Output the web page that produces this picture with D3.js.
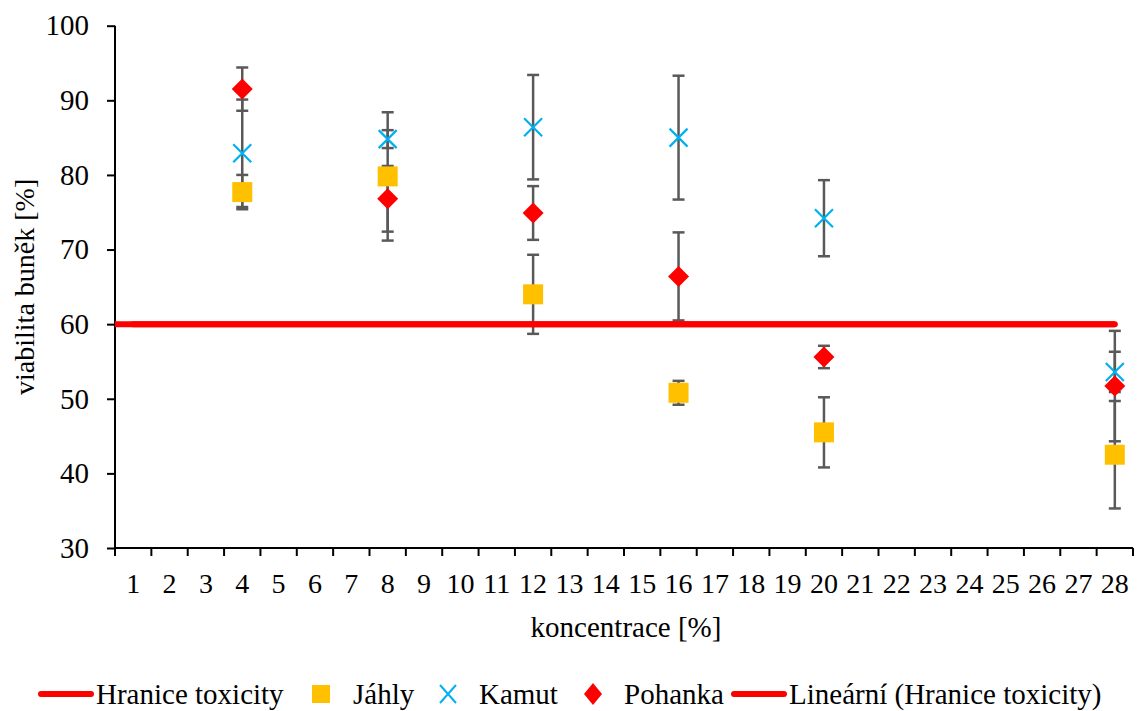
<!DOCTYPE html>
<html>
<head>
<meta charset="utf-8">
<script src="https://cdn.jsdelivr.net/npm/d3@7"></script>
<style>
  html, body { margin: 0; padding: 0; background: #fff; }
  svg { display: block; }
  text { font-family: "Liberation Serif", "Times New Roman", serif; fill: #000; }
</style>
</head>
<body>
<svg id="chart" width="1137" height="711"></svg>
<script>
const categories = d3.range(1, 29).map(String);
const pointCats = ["4", "8", "12", "16", "20", "28"];
const hranice = categories.map(() => 60);
const jahly = [77.7, 79.8, 64.0, 50.8, 45.5, 42.5];
const jahlyErr = [2.3, 8.6, 5.3, 1.6, 4.7, 7.2];
const kamut = [82.9, 84.8, 86.4, 85.0, 74.2, 53.6];
const kamutErr = [7.2, 1.2, 7.0, 8.3, 5.1, 2.7];
const pohanka = [91.5, 76.8, 74.9, 66.4, 55.6, 51.7];
const pohankaErr = [2.9, 4.4, 3.6, 5.9, 1.5, 7.4];
const yTicks = [30, 40, 50, 60, 70, 80, 90, 100];

const svg = d3.select("#chart");
const M = { left: 115, right: 1133, top: 25.7, bottom: 548 };

const x = d3.scaleBand().domain(categories).range([M.left, M.right]).paddingInner(0).paddingOuter(0);
const cx = c => x(c) + x.bandwidth() / 2;
const y = d3.scaleLinear().domain([30, 100]).range([M.bottom, M.top]);

// Y axis
const yAxis = svg.append("g").attr("transform", `translate(${M.left},0)`)
  .call(d3.axisLeft(y).tickValues(yTicks).tickSize(8).tickPadding(18));
yAxis.select(".domain").attr("stroke", "#000").attr("stroke-width", 2).attr("d", `M0,${M.top}V${M.bottom}`);
yAxis.selectAll(".tick line").attr("stroke", "#000").attr("stroke-width", 2);
yAxis.selectAll(".tick text").style("font-size", "29px").style("font-family", "Liberation Serif, Times New Roman, serif");

// X axis: boundary ticks + centered labels
const xAxis = svg.append("g").attr("transform", `translate(0,${M.bottom})`);
xAxis.append("line").attr("x1", M.left - 1).attr("x2", M.right).attr("y1", 0).attr("y2", 0)
  .attr("stroke", "#000").attr("stroke-width", 2);
const bounds = categories.map(c => x(c)).concat([M.right]);
xAxis.selectAll("line.tk").data(bounds).enter().append("line").attr("class", "tk")
  .attr("x1", d => d).attr("x2", d => d).attr("y1", 0).attr("y2", 8)
  .attr("stroke", "#000").attr("stroke-width", 2);
xAxis.selectAll("text").data(categories).enter().append("text")
  .attr("x", d => cx(d)).attr("y", 44.5).attr("text-anchor", "middle")
  .style("font-size", "28px").text(d => d);

// Axis titles
svg.append("text").attr("x", (M.left + M.right) / 2 + 2).attr("y", 637).attr("text-anchor", "middle")
  .style("font-size", "29px").text("koncentrace [%]");
svg.append("text").attr("transform", `translate(34,${(M.top + M.bottom) / 2}) rotate(-90)`)
  .attr("text-anchor", "middle").style("font-size", "28px").text("viabilita buněk [%]");

// Error bars
const errColor = "#595959";
function errorBars(vals, errs) {
  const g = svg.append("g");
  vals.forEach((v, i) => {
    const xc = cx(pointCats[i]);
    const y1 = y(v + errs[i]), y2 = y(v - errs[i]);
    g.append("line").attr("x1", xc).attr("x2", xc).attr("y1", y1).attr("y2", y2)
      .attr("stroke", errColor).attr("stroke-width", 2.5);
    [y1, y2].forEach(yy => g.append("line").attr("x1", xc - 6).attr("x2", xc + 6)
      .attr("y1", yy).attr("y2", yy).attr("stroke", errColor).attr("stroke-width", 2.5));
  });
}
errorBars(jahly, jahlyErr);
errorBars(kamut, kamutErr);
errorBars(pohanka, pohankaErr);

// Hranice toxicity line + linear trendline
const line = d3.line().x(d => d[0]).y(d => d[1]);
svg.append("path").attr("d", line(categories.map((c, i) => [cx(c), y(hranice[i])])))
  .attr("fill", "none").attr("stroke", "#FF0000").attr("stroke-width", 6).attr("stroke-linecap", "round");
svg.append("path").attr("d", line([[M.left, y(hranice[0])], [cx(categories[categories.length - 1]), y(hranice[hranice.length - 1])]]))
  .attr("fill", "none").attr("stroke", "#FF0000").attr("stroke-width", 6).attr("stroke-linecap", "butt");

// Markers
const sq = 20;
svg.append("g").selectAll("rect").data(jahly).enter().append("rect")
  .attr("x", (d, i) => cx(pointCats[i]) - sq / 2).attr("y", d => y(d) - sq / 2)
  .attr("width", sq).attr("height", sq).attr("fill", "#FFC000");
const xs = 9;
svg.append("g").selectAll("path").data(kamut).enter().append("path")
  .attr("d", (d, i) => { const a = cx(pointCats[i]), b = y(d);
    return `M${a - xs},${b - xs}L${a + xs},${b + xs}M${a - xs},${b + xs}L${a + xs},${b - xs}`; })
  .attr("stroke", "#00B0F0").attr("stroke-width", 2.2).attr("fill", "none");
const dm = 10.5;
svg.append("g").selectAll("path").data(pohanka).enter().append("path")
  .attr("d", (d, i) => { const a = cx(pointCats[i]), b = y(d);
    return `M${a},${b - dm}L${a + dm},${b}L${a},${b + dm}L${a - dm},${b}Z`; })
  .attr("fill", "#FF0000");

// Legend
const ly = 694;
const lg = svg.append("g").style("font-size", "29px");
function legText(xp, t) {
  lg.append("text").attr("x", xp).attr("y", ly).attr("dominant-baseline", "central").text(t);
}
lg.append("line").attr("x1", 41).attr("x2", 91).attr("y1", ly).attr("y2", ly)
  .attr("stroke", "#FF0000").attr("stroke-width", 6).attr("stroke-linecap", "round");
legText(96, "Hranice toxicity");
lg.append("rect").attr("x", 312).attr("y", ly - 9).attr("width", 18).attr("height", 18).attr("fill", "#FFC000");
legText(353, "Jáhly");
lg.append("path").attr("d", `M${440},${ly - 9}L${456},${ly + 9}M${440},${ly + 9}L${456},${ly - 9}`)
  .attr("stroke", "#00B0F0").attr("stroke-width", 2).attr("fill", "none");
legText(479, "Kamut");
lg.append("path").attr("d", `M593,${ly - 11}L602,${ly}L593,${ly + 11}L584,${ly}Z`).attr("fill", "#FF0000");
legText(624, "Pohanka");
lg.append("line").attr("x1", 734).attr("x2", 784).attr("y1", ly).attr("y2", ly)
  .attr("stroke", "#FF0000").attr("stroke-width", 6).attr("stroke-linecap", "round");
legText(789, "Lineární (Hranice toxicity)");
</script>
</body>
</html>
